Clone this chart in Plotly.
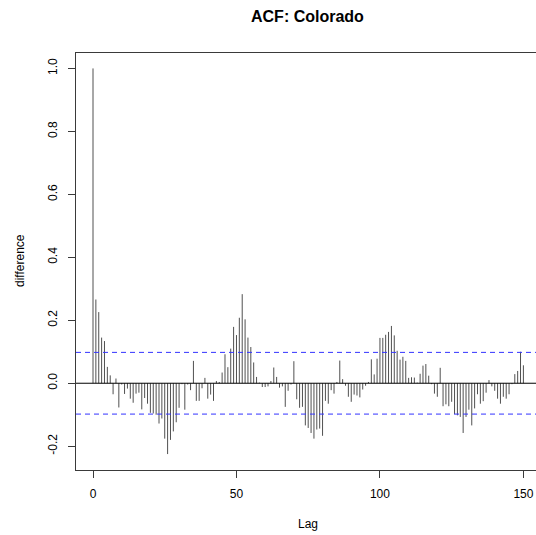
import plotly.graph_objects as go

# ---- data ----
lags = list(range(0, 151))
acf_values = [
    1.000, 0.266, 0.226, 0.145, 0.134, 0.052, 0.025, -0.035, 0.015, -0.077,
    -0.004, -0.034, -0.017, -0.049, -0.062, -0.033, -0.030, -0.083, -0.047, -0.065,
    -0.094, -0.096, -0.100, -0.128, -0.112, -0.176, -0.225, -0.180, -0.153, -0.124,
    -0.078, -0.003, -0.084, -0.004, -0.022, 0.071, -0.056, -0.056, -0.016, 0.017,
    -0.049, -0.036, -0.056, 0.007, 0.004, 0.034, 0.092, 0.051, 0.110, 0.179,
    0.153, 0.208, 0.283, 0.203, 0.145, 0.115, 0.066, 0.020, 0.002, -0.012,
    -0.012, -0.010, 0.007, 0.050, 0.020, -0.014, -0.010, -0.075, -0.024, -0.004,
    0.070, -0.051, -0.078, -0.075, -0.134, -0.142, -0.158, -0.176, -0.147, -0.144,
    -0.167, -0.056, -0.065, -0.022, -0.033, 0.004, 0.072, 0.013, -0.008, -0.043,
    -0.059, -0.036, -0.039, -0.045, -0.020, -0.008, 0.004, 0.076, 0.028, 0.078,
    0.144, 0.144, 0.154, 0.163, 0.182, 0.152, 0.103, 0.075, 0.084, 0.071,
    0.017, 0.019, 0.018, 0.002, 0.030, 0.056, 0.061, 0.024, -0.003, -0.033,
    -0.043, 0.049, -0.073, -0.067, -0.073, -0.059, -0.098, -0.102, -0.107, -0.158,
    -0.107, -0.084, -0.134, -0.080, -0.035, -0.065, -0.057, -0.030, 0.010, -0.010,
    -0.024, -0.049, -0.065, -0.043, -0.049, -0.035, -0.003, 0.029, 0.039, 0.100,
    0.057,
]
ci_bound = 0.098
x_tick_vals = [0, 50, 100, 150]
x_tick_text = ["0", "50", "100", "150"]
y_tick_vals = [-0.2, 0.0, 0.2, 0.4, 0.6, 0.8, 1.0]
y_tick_text = ["-0.2", "0.0", "0.2", "0.4", "0.6", "0.8", "1.0"]
title_text = "ACF: Colorado"
x_title = "Lag"
y_title = "difference"

# ---- build spikes ----
xs, ys = [], []
for l, v in zip(lags, acf_values):
    xs += [l, l, None]
    ys += [0, v, None]

FONT = "Liberation Sans, Arial, Helvetica, sans-serif"
AXIS_COL = "#3a3a3a"

fig = go.Figure()
fig.add_trace(go.Scatter(x=xs, y=ys, mode="lines",
                         line=dict(color="#505050", width=1),
                         hoverinfo="skip", showlegend=False))

# zero line and confidence bounds across the whole plot
fig.add_shape(type="line", xref="paper", x0=0, x1=1, yref="y", y0=0, y1=0,
              line=dict(color="#000000", width=1))
for b in (ci_bound, -ci_bound):
    fig.add_shape(type="line", xref="paper", x0=0, x1=1, yref="y", y0=b, y1=b,
                  line=dict(color="#3333ff", width=1, dash="5px,4px"))

W, H = 536, 535
ML, MR, MT, MB = 76, 0, 53, 65

fig.update_layout(
    width=W, height=H,
    margin=dict(l=ML, r=MR, t=MT, b=MB, pad=0),
    paper_bgcolor="white", plot_bgcolor="white",
    font=dict(family=FONT, size=12, color="#000000"),
    showlegend=False,
    xaxis=dict(range=[-5.925, 154.39], tickmode="array",
               tickvals=x_tick_vals, ticktext=x_tick_text,
               showgrid=False, zeroline=False,
               showline=True, linecolor=AXIS_COL, linewidth=1, mirror=True,
               ticks="outside", ticklen=7, tickcolor=AXIS_COL, tickwidth=1,
               tickfont=dict(size=12, family=FONT), ticklabelstandoff=6),
    yaxis=dict(range=[-0.2756, 1.049], tickmode="array",
               tickvals=y_tick_vals, ticktext=y_tick_text,
               showgrid=False, zeroline=False,
               showline=True, linecolor=AXIS_COL, linewidth=1, mirror=False,
               ticks="outside", ticklen=7, tickcolor=AXIS_COL, tickwidth=1,
               tickangle=-90, tickfont=dict(size=12, family=FONT),
               ticklabelstandoff=6),
)

fig.add_annotation(text="<b>" + title_text + "</b>", xref="paper", yref="paper",
                   x=(307.7 - ML) / (W - ML - MR), y=1 + (MT - 16.4) / (H - MT - MB),
                   xanchor="center", yanchor="middle", showarrow=False,
                   font=dict(size=16, family=FONT, color="#000000"))
fig.add_annotation(text=x_title, xref="paper", yref="paper",
                   x=(308 - ML) / (W - ML - MR), y=-(524 - (H - MB)) / (H - MT - MB),
                   xanchor="center", yanchor="middle", showarrow=False,
                   font=dict(size=12, family=FONT, color="#000000"))
fig.add_annotation(text=y_title, xref="paper", yref="paper",
                   x=(20 - ML) / (W - ML - MR), y=((H - MB) - 261) / (H - MT - MB),
                   xanchor="center", yanchor="middle", textangle=-90, showarrow=False,
                   font=dict(size=12, family=FONT, color="#000000"))

fig.write_html("out.html")
